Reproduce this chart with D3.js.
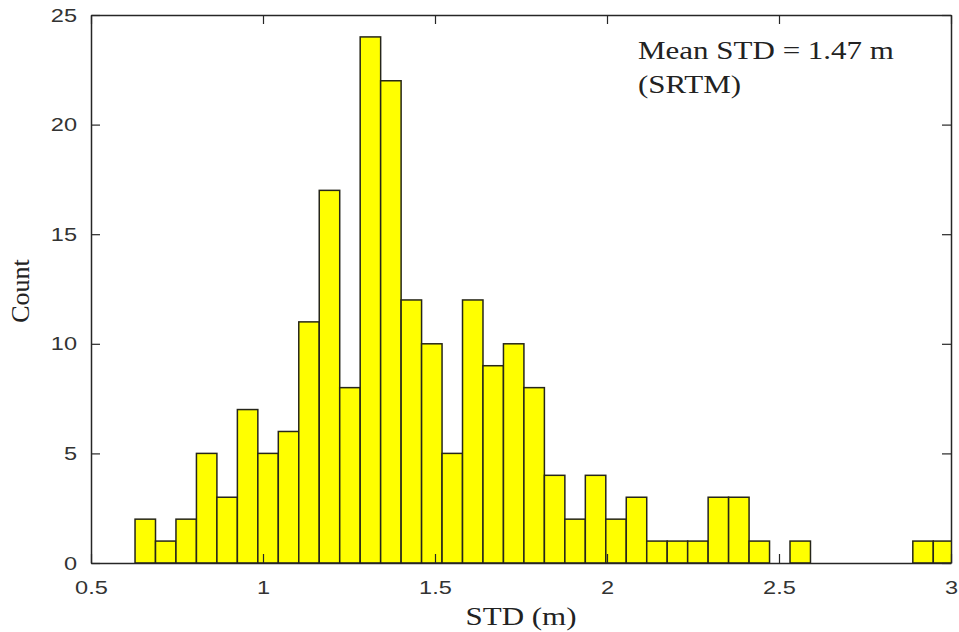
<!DOCTYPE html>
<html>
<head>
<meta charset="utf-8">
<script src="https://cdn.jsdelivr.net/npm/d3@7/dist/d3.min.js"></script>
<style>
  html, body { margin: 0; padding: 0; background: #fff; }
  svg { display: block; }
</style>
</head>
<body>
<svg id="chart" width="959" height="632"></svg>
<script>
// ---- data ----
const binStart = 0.628;      // left edge of first bin (m)
const binWidth = 0.0595;     // bin width (m)
const counts = [2, 1, 2, 5, 3, 7, 5, 6, 11, 17, 8, 24, 22, 12, 10, 5, 12, 9, 10, 8,
                4, 2, 4, 2, 3, 1, 1, 1, 3, 3, 1, 0, 1, 0, 0, 0, 0, 0, 1, 1];
const xTicks = [0.5, 1, 1.5, 2, 2.5, 3];
const xTickLabels = ["0.5", "1", "1.5", "2", "2.5", "3"];
const yTicks = [0, 5, 10, 15, 20, 25];
const annotationLines = ["Mean STD = 1.47 m", "(SRTM)"];
const xLabel = "STD (m)";
const yLabel = "Count";

// ---- layout ----
const svg = d3.select("#chart");
const L = 91, R = 951, T = 15, B = 563;
const x = d3.scaleLinear().domain([0.5, 3]).range([L, R]);
const y = d3.scaleLinear().domain([0, 25]).range([B, T]);
const stretch = 1.24;   // the reference text is horizontally widened

const bins = counts.map((c, i) => ({ x0: binStart + i * binWidth, x1: binStart + (i + 1) * binWidth, c }));

svg.append("defs").append("clipPath").attr("id", "clip")
  .append("rect").attr("x", L).attr("y", T - 2).attr("width", R - L).attr("height", B - T + 4);

const g = svg.append("g").attr("clip-path", "url(#clip)");
g.selectAll("rect.bar").data(bins.filter(d => d.c > 0)).enter().append("rect")
  .attr("class", "bar")
  .attr("x", d => x(d.x0))
  .attr("y", d => y(d.c))
  .attr("width", d => x(d.x1) - x(d.x0))
  .attr("height", d => y(0) - y(d.c))
  .attr("fill", "#ffff00")
  .attr("stroke", "#26261a")
  .attr("stroke-width", 1.5);

// axes (ticks inward)
const tickLen = 9;
const fontTick = "Liberation Sans, Arial, sans-serif";
const axBottom = svg.append("g").attr("transform", `translate(0,${B})`)
  .call(d3.axisBottom(x).tickValues(xTicks).tickFormat((d, i) => xTickLabels[i]).tickSizeInner(-tickLen).tickSizeOuter(0).tickPadding(18));
const axTop = svg.append("g").attr("transform", `translate(0,${T})`)
  .call(d3.axisTop(x).tickValues(xTicks).tickFormat("").tickSizeInner(-tickLen).tickSizeOuter(0));
const axLeft = svg.append("g").attr("transform", `translate(${L},0)`)
  .call(d3.axisLeft(y).tickValues(yTicks).tickSizeInner(-tickLen).tickSizeOuter(0));
const axRight = svg.append("g").attr("transform", `translate(${R},0)`)
  .call(d3.axisRight(y).tickValues(yTicks).tickFormat("").tickSizeInner(-tickLen).tickSizeOuter(0));

[axBottom, axTop, axLeft, axRight].forEach(a => {
  a.select(".domain").attr("stroke", "#262626").attr("stroke-width", 1.5);
  a.selectAll(".tick line").attr("stroke", "#262626").attr("stroke-width", 1.2);
  a.selectAll(".tick text").attr("fill", "#333").style("font-family", fontTick).style("font-size", "19px")
    .attr("transform", `scale(${stretch},1)`);
});
axLeft.selectAll(".tick text").attr("x", -14 / stretch);

// axis labels (serif)
const fontSerif = "Liberation Serif, 'Times New Roman', serif";
svg.append("text").attr("transform", `translate(${(L + R) / 2},625) scale(${stretch},1)`)
  .attr("text-anchor", "middle").style("font-family", fontSerif).style("font-size", "25px")
  .attr("fill", "#222").text(xLabel);
svg.append("text").attr("transform", `translate(29,${(T + B) / 2 + 2}) rotate(-90)`)
  .attr("text-anchor", "middle").style("font-family", fontSerif).style("font-size", "26px")
  .attr("fill", "#222").text(yLabel);

// annotation
svg.selectAll("text.ann").data(annotationLines).enter().append("text")
  .attr("class", "ann")
  .attr("transform", (d, i) => `translate(638,${59 + i * 34}) scale(${stretch},1)`)
  .style("font-family", fontSerif).style("font-size", "25px").attr("fill", "#222")
  .text(d => d);
</script>
</body>
</html>
